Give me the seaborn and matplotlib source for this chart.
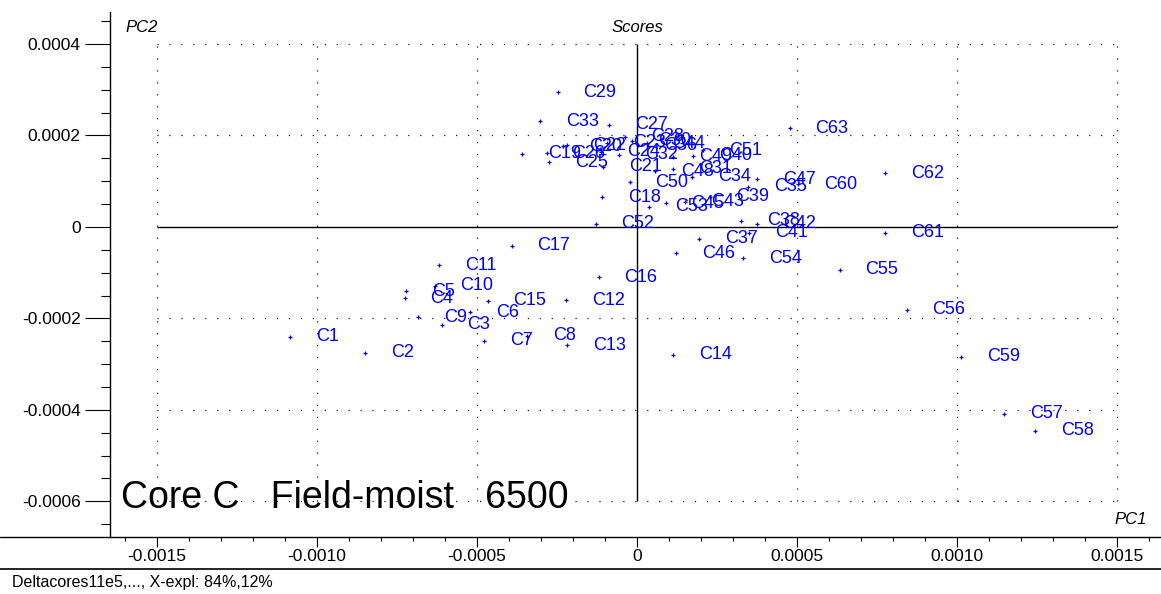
import matplotlib
matplotlib.use("Agg")
import matplotlib.pyplot as plt
from matplotlib.lines import Line2D
from matplotlib.ticker import MultipleLocator, FixedLocator
import pandas as pd
import seaborn as sns

# PCA score values (PC1, PC2) per sample
sample_ids = [f"C{i}" for i in range(1, 64)]
pc1_scores = [
    -0.001084, -0.000850, -0.000610, -0.000726, -0.000722, -0.000522, -0.000478, -0.000344,
    -0.000683, -0.000632, -0.000619, -0.000222, -0.000218, 0.0001125, -0.000467, -0.000120,
    -0.000392, -0.000109, -0.000359, -0.000231, -0.000105, -0.000219, -0.0000938, -0.0001125,
    -0.000274, -0.000282, -0.0000875, -0.0000375, -0.000248, -0.0000156, 0.000113, -0.0000553,
    -0.000303, 0.000173, 0.000347, 0.0000031, 0.000195, 0.000325, 0.000228, 0.000176,
    0.000350, 0.000375, 0.000150, 0.0000303, 0.0000897, 0.000122, 0.000375, 0.0000563,
    0.000113, -0.0000234, 0.000207, -0.000129, 0.0000375, 0.000332, 0.000634, 0.000843,
    0.001147, 0.001244, 0.0010125, 0.000503, 0.000775, 0.000775, 0.000477,
]
pc2_scores = [
    -0.000240, -0.000275, -0.000214, -0.000156, -0.000141, -0.000187, -0.000249, -0.000238,
    -0.000197, -0.000129, -0.0000842, -0.000160, -0.000259, -0.000280, -0.000161, -0.000110,
    -0.0000415, 0.0000649, 0.000160, 0.000176, 0.000132, 0.000179, 0.000184, 0.000164,
    0.000141, 0.000161, 0.000223, 0.000197, 0.000294, 0.000188, 0.000127, 0.000158,
    0.000231, 0.000110, 0.0000874, 0.000179, -0.0000262, 0.0000131, 0.0000656, 0.000156,
    -0.0000131, 0.0000072, 0.0000553, 0.000183, 0.0000518, -0.0000575, 0.000104, 0.000122,
    0.000154, 0.0000973, 0.000168, 0.0000072, 0.0000444, -0.0000684, -0.0000940, -0.000181,
    -0.000408, -0.000446, -0.000284, 0.0000929, -0.0000125, 0.000117, 0.000216,
]

x_major_ticks = [-0.0015, -0.0010, -0.0005, 0.0, 0.0005, 0.0010, 0.0015]
y_major_ticks = [0.0004, 0.0002, 0.0, -0.0002, -0.0004, -0.0006]
x_tick_labels = ["-0.0015", "-0.0010", "-0.0005", "0", "0.0005", "0.0010", "0.0015"]
y_tick_labels = ["0.0004", "0.0002", "0", "-0.0002", "-0.0004", "-0.0006"]

scores = pd.DataFrame({"sample": sample_ids, "PC1": pc1_scores, "PC2": pc2_scores})

sns.set_theme(style="white")
plt.rcParams["font.family"] = ["Liberation Sans", "DejaVu Sans"]
plt.rcParams["lines.scale_dashes"] = False
plt.rcParams["text.color"] = "black"
plt.rcParams["xtick.color"] = "black"
plt.rcParams["ytick.color"] = "black"
plt.rcParams["xtick.labelcolor"] = "black"
plt.rcParams["ytick.labelcolor"] = "black"

W, H = 1161, 594
fig = plt.figure(figsize=(W / 100, H / 100), dpi=100)
ax_left, ax_top, ax_bottom = 110, 12, 537
ax = fig.add_axes([ax_left / W, (H - ax_bottom) / H, (W - ax_left) / W, (ax_bottom - ax_top) / H])

ax.set_xlim(-0.001647, 0.0016375)
ax.set_ylim(-0.000678, 0.00047)

blue = "#0000FF"
grid_x = [-0.0015, 0.0015]
grid_y = [-0.0006, 0.0004]
dotted = (0, (0.8, 7.8))

# dotted reference grid inside the score box
for xv in x_major_ticks:
    if xv != 0:
        ax.vlines(xv, grid_y[0], grid_y[1], colors="black", linewidth=0.9, linestyles=[dotted], zorder=1)
for yv in y_major_ticks:
    if yv != 0:
        ax.hlines(yv, grid_x[0], grid_x[1], colors="black", linewidth=0.9, linestyles=[dotted], zorder=1)

# solid zero lines
ax.vlines(0, grid_y[0], grid_y[1], colors="black", linewidth=1.0, zorder=1)
ax.hlines(0, grid_x[0], grid_x[1], colors="black", linewidth=1.0, zorder=1)

sns.scatterplot(data=scores, x="PC1", y="PC2", marker="+", s=9, color=blue,
                linewidth=0.9, ax=ax, zorder=3, legend=False)
ax.collections[-1].set_edgecolor(blue)
ax.collections[-1].set_facecolor(blue)

for name, xv, yv in zip(scores["sample"], scores["PC1"], scores["PC2"]):
    ax.annotate(name, (xv, yv), xytext=(18.5, 0), textcoords="offset points",
                ha="left", va="center", fontsize=13, color=blue, zorder=4)

# axes decoration
for side in ["top", "right", "bottom"]:
    ax.spines[side].set_visible(False)
ax.spines["left"].set_color("black")
ax.spines["left"].set_linewidth(1.0)

ax.xaxis.set_major_locator(FixedLocator(x_major_ticks))
ax.xaxis.set_minor_locator(MultipleLocator(0.0001))
ax.yaxis.set_major_locator(FixedLocator(y_major_ticks))
ax.yaxis.set_minor_locator(MultipleLocator(0.00005))
ax.set_xticklabels(x_tick_labels)
ax.set_yticklabels(y_tick_labels)
ax.tick_params(axis="x", which="major", direction="out", length=7, width=0.8, color="black",
               labelsize=12.5, labelcolor="black", pad=1.5, bottom=True)
ax.tick_params(axis="x", which="minor", direction="out", length=3, width=0.8, color="black", bottom=True)
ax.tick_params(axis="y", which="major", direction="out", length=18, width=0.8, color="black",
               labelsize=12.5, labelcolor="black", pad=3, left=True)
ax.tick_params(axis="y", which="minor", direction="out", length=6.5, width=0.8, color="black", left=True)
ax.set_xlabel("")
ax.set_ylabel("")

# full-width frame lines
fig.add_artist(Line2D([0, 1], [(H - ax_bottom) / H] * 2, color="black", linewidth=1.0))
fig.add_artist(Line2D([0, 1], [(H - 569) / H] * 2, color="black", linewidth=1.2))

fig.text(125 / W, (H - 28) / H, "PC2", fontsize=12, style="italic", ha="left", va="center")
fig.text(637 / W, (H - 28) / H, "Scores", fontsize=12, style="italic", ha="center", va="center")
fig.text(1147 / W, (H - 519) / H, "PC1", fontsize=12, style="italic", ha="right", va="center")
fig.text(121 / W, (H - 498) / H, "Core C   Field-moist   6500", fontsize=27, ha="left", va="center")
fig.text(12 / W, (H - 582) / H, "Deltacores11e5,..., X-expl: 84%,12%", fontsize=11.5, ha="left", va="center")

fig.savefig("out.png", dpi=100)
